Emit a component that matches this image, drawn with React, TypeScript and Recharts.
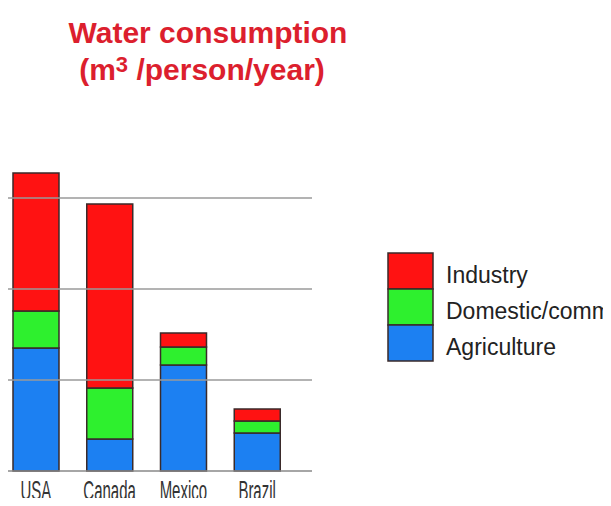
import { BarChart, Bar, XAxis, YAxis, ReferenceLine } from 'recharts';

const countries = ['USA', 'Canada', 'Mexico', 'Brazil'];
const agriculture = [676, 176, 582, 209];
const domestic = [203, 280, 99, 66];
const industry = [758, 1011, 77, 66];
const gridTicks = [500, 1000, 1500];

const series = [
  { key: 'industry', name: 'Industry', color: '#ff1212' },
  { key: 'domestic', name: 'Domestic/commercial', color: '#2ef02e' },
  { key: 'agriculture', name: 'Agriculture', color: '#1c80f2' },
];

const data = countries.map((c, i) => ({
  country: c,
  agriculture: agriculture[i],
  domestic: domestic[i],
  industry: industry[i],
}));

const colorOf = (k: string) => series.find((s) => s.key === k)!.color;

function CountryTick({ x, y, payload }: any) {
  return (
    <text
      transform={`translate(${x}, ${y + 21}) scale(0.6, 1.1)`}
      textAnchor="middle"
      fontFamily="Liberation Sans, Arial, sans-serif"
      fontSize={25}
      fill="#333"
    >
      {payload.value}
    </text>
  );
}

export default function App() {
  return (
    <div style={{ position: 'relative', width: 611, height: 506, margin: -8, background: '#fff' }}>
      <BarChart
        width={611}
        height={506}
        data={data}
        margin={{ top: 107, right: 299, bottom: 0, left: 8 }}
        barSize={46}
      >
        <YAxis hide domain={[0, 2000]} ticks={gridTicks} width={0} />
        <XAxis
          dataKey="country"
          height={35}
          padding={{ left: -9, right: 18 }}
          tickLine={false}
          axisLine={{ stroke: '#888', strokeWidth: 1.5 }}
          tick={<CountryTick />}
          interval={0}
        />
        {gridTicks.map((t) => (
          <ReferenceLine key={t} y={t} stroke="#9a9a9a" strokeWidth={1.5} />
        ))}
        <Bar dataKey="agriculture" stackId="a" fill={colorOf('agriculture')} stroke="#3a2a2a" strokeWidth={1.5} isAnimationActive={false} />
        <Bar dataKey="domestic" stackId="a" fill={colorOf('domestic')} stroke="#3a2a2a" strokeWidth={1.5} isAnimationActive={false} />
        <Bar dataKey="industry" stackId="a" fill={colorOf('industry')} stroke="#3a2a2a" strokeWidth={1.5} isAnimationActive={false} />
      </BarChart>
      <svg width={611} height={506} style={{ position: 'absolute', left: 0, top: 0, pointerEvents: 'none' }}>
        <g fontFamily="Liberation Sans, Arial, sans-serif" fontWeight="bold" fill="#dc1f2e" fontSize={30}>
          <text x={208} y={43} textAnchor="middle">Water consumption</text>
          <text x={202} y={80} textAnchor="middle">
            (m<tspan fontSize={22} dy={-8}>3</tspan>
            <tspan dy={8}> /person/year)</tspan>
          </text>
        </g>
        {series.map((s, i) => (
          <g key={s.key}>
            <rect x={388} y={253 + i * 36} width={45} height={36} fill={s.color} stroke="#3a2a2a" strokeWidth={1.5} />
            <text x={446} y={283 + i * 36} fontFamily="Liberation Sans, Arial, sans-serif" fontSize={23} fill="#222">
              {s.name}
            </text>
          </g>
        ))}
      </svg>
    </div>
  );
}
